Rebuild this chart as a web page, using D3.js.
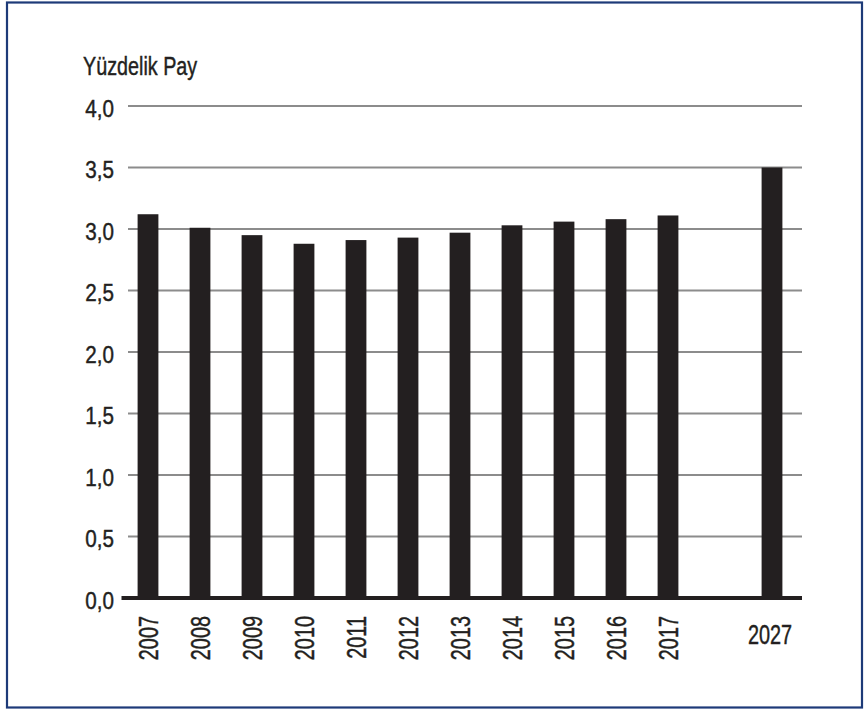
<!DOCTYPE html>
<html>
<head>
<meta charset="utf-8">
<script src="https://cdn.jsdelivr.net/npm/d3@7"></script>
<style>
  html, body { margin: 0; padding: 0; background: #fff; }
  svg { display: block; }
  text { font-family: "Liberation Sans", Arial, sans-serif; fill: #231f20; stroke: #231f20; stroke-width: 0.45px; }
</style>
</head>
<body>
<svg id="chart" width="865" height="711"></svg>
<script>
const years = ["2007","2008","2009","2010","2011","2012","2013","2014","2015","2016","2017","2027"];
const values = [3.12, 3.01, 2.95, 2.88, 2.91, 2.93, 2.97, 3.03, 3.06, 3.08, 3.11, 3.50];
const yTicks = [0, 0.5, 1.0, 1.5, 2.0, 2.5, 3.0, 3.5, 4.0];
const yTitle = "Yüzdelik Pay";
const GAP = "_gap";
const slots = [...years.slice(0, 11), GAP, years[11]];

const svg = d3.select("#chart");

// frame
svg.append("rect")
  .attr("x", 7).attr("y", 2.5).attr("width", 855).attr("height", 705)
  .attr("fill", "none").attr("stroke", "#1d3a78").attr("stroke-width", 2.2);

const x = d3.scaleBand().domain(slots).range([122, 798]).paddingInner(0.6).paddingOuter(0.3);
const y = d3.scaleLinear().domain([0, 4]).range([598, 106]);
const fmt = v => d3.format(".1f")(v).replace(".", ",");

// gridlines
svg.append("g").selectAll("line").data(yTicks.filter(t => t > 0)).join("line")
  .attr("x1", 128).attr("x2", 802)
  .attr("y1", d => y(d)).attr("y2", d => y(d))
  .attr("stroke", "#8c8c8c").attr("stroke-width", 2);

// y tick labels
svg.append("g").selectAll("text").data(yTicks).join("text")
  .attr("transform", d => `translate(114,${y(d) + 2}) scale(0.86,1)`)
  .attr("dy", "0.36em")
  .attr("text-anchor", "end")
  .attr("font-size", 24)
  .text(fmt);

// title
svg.append("text")
  .attr("transform", "translate(83,75) scale(0.76,1)")
  .attr("font-size", 26)
  .text(yTitle);

// bars
svg.append("g").selectAll("rect").data(years.map((yr, i) => ({yr, v: values[i]}))).join("rect")
  .attr("x", d => x(d.yr))
  .attr("width", x.bandwidth())
  .attr("y", d => y(d.v))
  .attr("height", d => y(0) - y(d.v))
  .attr("fill", "#231f20");

// baseline
svg.append("line")
  .attr("x1", 121.5).attr("x2", 802)
  .attr("y1", y(0)).attr("y2", y(0))
  .attr("stroke", "#231f20").attr("stroke-width", 4);

// x labels
const xl = svg.append("g");
years.slice(0, 11).forEach(yr => {
  const cx = x(yr) + x.bandwidth() / 2;
  xl.append("text")
    .attr("transform", `translate(${cx},616) rotate(-90) scale(0.71,1)`)
    .attr("text-anchor", "end")
    .attr("dy", "0.36em")
    .attr("font-size", 28)
    .text(yr);
});
{
  const yr = years[11];
  const cx = x(yr) + x.bandwidth() / 2 - 2;
  xl.append("text")
    .attr("transform", `translate(${cx},644) scale(0.71,1)`)
    .attr("text-anchor", "middle")
    .attr("font-size", 28)
    .text(yr);
}
</script>
</body>
</html>
